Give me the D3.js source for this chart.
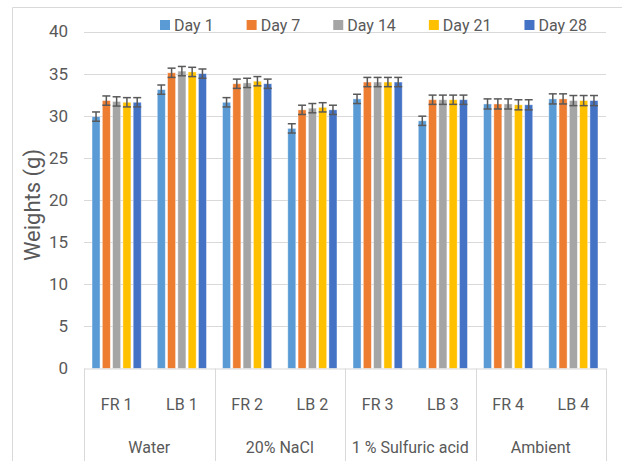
<!DOCTYPE html>
<html>
<head>
<meta charset="utf-8">
<script src="https://cdn.jsdelivr.net/npm/d3@7"></script>
<style>
  body { margin: 0; background: #fff; }
  svg text { font-family: Roboto, "Liberation Sans", sans-serif; fill: #595959; }
</style>
</head>
<body>
<div id="graphicContainer"></div>
<script>
// data
const groups = ["Water", "20% NaCl", "1 % Sulfuric acid", "Ambient"]
const samples = ["FR 1", "LB 1", "FR 2", "LB 2", "FR 3", "LB 3", "FR 4", "LB 4"]
const days = ["Day 1", "Day 7", "Day 14", "Day 21", "Day 28"]
const colors = ["#5B9BD5", "#ED7D31", "#A5A5A5", "#FFC000", "#4472C4"]
const yTicks = [0, 5, 10, 15, 20, 25, 30, 35, 40]

const day1  = [29.9, 33.1, 31.6, 28.5, 32.0, 29.4, 31.4, 32.0]
const day7  = [31.8, 35.1, 33.8, 30.7, 34.0, 31.9, 31.4, 32.0]
const day14 = [31.7, 35.3, 33.9, 30.9, 34.0, 31.9, 31.4, 31.8]
const day21 = [31.6, 35.2, 34.1, 31.0, 34.0, 31.9, 31.3, 31.8]
const day28 = [31.6, 35.0, 33.8, 30.7, 34.0, 31.9, 31.3, 31.8]
const errors = [0.55, 0.55, 0.55, 0.55, 0.55, 0.55, 0.6, 0.6]

const series = [day1, day7, day14, day21, day28]

const width = 622, height = 461
const marginleft = 84, plotRight = 606, plotTop = 31.5, plotBottom = 368.5

const svg = d3.select("#graphicContainer")
  .append("svg")
  .attr("width", width)
  .attr("height", height)

// outer chart frame
svg.append("path")
  .attr("d", `M12.5,${height} V7.5 H${width}`)
  .attr("fill", "none")
  .attr("stroke", "#d9d9d9")

const x = d3.scaleBand()
  .domain(samples)
  .range([marginleft, plotRight])

const xInner = d3.scaleBand()
  .domain(days)
  .range([0, x.bandwidth()])
  .paddingInner(0.22)
  .paddingOuter(0.78)

const y = d3.scaleLinear()
  .domain([0, 40])
  .range([plotBottom, plotTop])

// gridlines
svg.append("g")
  .selectAll("line")
  .data(yTicks.filter(d => d > 0))
  .enter()
  .append("line")
  .attr("x1", marginleft)
  .attr("x2", plotRight)
  .attr("y1", d => Math.round(y(d)) + 0.5)
  .attr("y2", d => Math.round(y(d)) + 0.5)
  .attr("stroke", "#d9d9d9")

// y tick labels
svg.append("g")
  .selectAll("text")
  .data(yTicks)
  .enter()
  .append("text")
  .attr("x", 68)
  .attr("y", d => y(d))
  .attr("dy", "0.35em")
  .attr("text-anchor", "end")
  .style("font-size", "17px")
  .text(d => d)

// y axis title
svg.append("text")
  .attr("transform", `translate(32,205) rotate(-90)`)
  .attr("dy", "0.35em")
  .attr("text-anchor", "middle")
  .style("font-size", "22px")
  .text("Weights (g)")

// bars
const rows = samples.map((s, i) => ({ sample: s, values: series.map(v => v[i]), err: errors[i] }))

const sampleG = svg.append("g")
  .selectAll("g")
  .data(rows)
  .enter()
  .append("g")
  .attr("transform", d => `translate(${x(d.sample)},0)`)

sampleG.selectAll("rect")
  .data(d => d.values.map((v, j) => ({ day: days[j], value: v, color: colors[j] })))
  .enter()
  .append("rect")
  .attr("x", d => xInner(d.day))
  .attr("width", xInner.bandwidth())
  .attr("y", d => y(d.value))
  .attr("height", d => plotBottom - y(d.value))
  .attr("fill", d => d.color)
  .attr("stroke", "#ffffff")
  .attr("stroke-opacity", 0.5)
  .attr("stroke-width", 0.8)

// error bars
const errG = sampleG.selectAll(".err")
  .data(d => d.values.map((v, j) => ({ day: days[j], value: v, err: d.err })))
  .enter()
  .append("g")
  .attr("class", "err")
  .attr("stroke", "#595959")
  .attr("stroke-width", 1.5)

errG.append("line")
  .attr("x1", d => xInner(d.day) + xInner.bandwidth() / 2)
  .attr("x2", d => xInner(d.day) + xInner.bandwidth() / 2)
  .attr("y1", d => y(d.value + d.err))
  .attr("y2", d => y(d.value - d.err))

errG.selectAll(".cap")
  .data(d => [d.value + d.err, d.value - d.err].map(v => ({ day: d.day, v: v })))
  .enter()
  .append("line")
  .attr("x1", d => xInner(d.day) + xInner.bandwidth() / 2 - 4)
  .attr("x2", d => xInner(d.day) + xInner.bandwidth() / 2 + 4)
  .attr("y1", d => y(d.v))
  .attr("y2", d => y(d.v))

// x axis line and group separators
svg.append("line")
  .attr("x1", marginleft)
  .attr("x2", plotRight)
  .attr("y1", plotBottom + 0.5)
  .attr("y2", plotBottom + 0.5)
  .attr("stroke", "#d9d9d9")

const groupEdges = d3.range(groups.length + 1).map(i => marginleft + i * 2 * x.step())

svg.append("g")
  .selectAll("line")
  .data(groupEdges)
  .enter()
  .append("line")
  .attr("x1", d => Math.round(d) + 0.5)
  .attr("x2", d => Math.round(d) + 0.5)
  .attr("y1", plotBottom)
  .attr("y2", height)
  .attr("stroke", "#d9d9d9")

svg.append("g")
  .selectAll("text")
  .data(samples)
  .enter()
  .append("text")
  .attr("x", d => x(d) + x.bandwidth() / 2)
  .attr("y", 404)
  .attr("dy", "0.35em")
  .attr("text-anchor", "middle")
  .style("font-size", "16px")
  .text(d => d)

svg.append("g")
  .selectAll("text")
  .data(groups)
  .enter()
  .append("text")
  .attr("x", (d, i) => (groupEdges[i] + groupEdges[i + 1]) / 2)
  .attr("y", 447)
  .attr("dy", "0.35em")
  .attr("text-anchor", "middle")
  .style("font-size", "16px")
  .text(d => d)

// legend
const legend = svg.append("g").attr("transform", "translate(160,0)")
let lx = 0
days.forEach((k, i) => {
  const item = legend.append("g").attr("transform", `translate(${lx},0)`)
  item.append("rect")
    .attr("x", 0)
    .attr("y", 20)
    .attr("width", 10)
    .attr("height", 10)
    .attr("fill", colors[i])
  const t = item.append("text")
    .attr("x", 14)
    .attr("y", 25)
    .attr("dy", "0.35em")
    .style("font-size", "16px")
    .text(k)
  lx += 14 + t.node().getComputedTextLength() + 33
})
</script>
</body>
</html>
